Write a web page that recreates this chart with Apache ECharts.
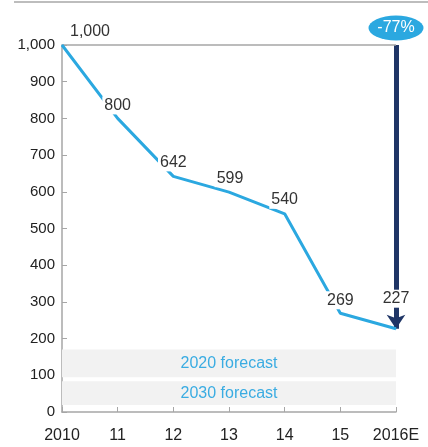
<!DOCTYPE html>
<html>
<head>
<meta charset="utf-8">
<script src="https://cdn.jsdelivr.net/npm/echarts@6/dist/echarts.min.js"></script>
<style>
html,body{margin:0;padding:0;background:#fff;}
#main{width:428px;height:447px;}
</style>
</head>
<body>
<div id="main"></div>
<script>
// 数据
var years = ['2010', '11', '12', '13', '14', '15', '2016E'];
var values = [1000, 800, 642, 599, 540, 269, 227];
var forecasts = [
    {name: '2020 forecast', from: 170, to: 95},
    {name: '2030 forecast', from: 84, to: 19}
];

// 标签偏移
var labelOffsets = [[28, -13], [0, -13], [0, -14], [1, -14], [0, -14], [0, -13], [0, -30]];

function lineData(){
    var arr = [];
    for (var i = 0; i < values.length; i++) {
        arr.push({
            value: values[i],
            label: {offset: labelOffsets[i]}
        });
    }
    return arr;
}

function areaData(){
    var arr = [];
    for (var i = 0; i < forecasts.length; i++) {
        arr.push([
            {name: forecasts[i].name, xAxis: years[0], yAxis: forecasts[i].from},
            {xAxis: years[years.length - 1], yAxis: forecasts[i].to}
        ]);
    }
    return arr;
}

var first = values[0], last = values[values.length - 1];
var pct = Math.round((last - first) / first * 100) + '%';
var lastYear = years[years.length - 1];

var myChart = echarts.init(document.getElementById('main'));
var option = {
    animation: false,
    graphic: [{
        type: 'line',
        shape: {x1: 14, y1: 2, x2: 428, y2: 2},
        style: {stroke: '#bdbdbd', lineWidth: 2}
    }],
    grid: {left: 62, right: 32, top: 45, bottom: 35},
    xAxis: {
        type: 'category',
        boundaryGap: false,
        data: years,
        axisLine: {lineStyle: {color: '#a6a6a6', width: 1.5}},
        axisTick: {inside: true, length: 5, interval: 0, lineStyle: {color: '#a6a6a6'}},
        axisLabel: {color: '#222', fontSize: 16, fontFamily: 'Liberation Sans', margin: 16, interval: 0}
    },
    yAxis: {
        type: 'value',
        min: 0,
        max: 1000,
        interval: 100,
        axisLine: {show: true, lineStyle: {color: '#a6a6a6', width: 1.5}},
        axisTick: {show: true, inside: true, length: 5, lineStyle: {color: '#a6a6a6'}},
        splitLine: {show: false},
        axisLabel: {
            color: '#222', fontSize: 15, fontFamily: 'Liberation Sans', margin: 7,
            formatter: function(v){ return v.toLocaleString('en-US'); }
        }
    },
    series: [
        {
            type: 'line',
            z: 1,
            data: [],
            markArea: {
                silent: true,
                z: 1,
                itemStyle: {color: '#f2f2f2'},
                label: {
                    position: 'inside', color: '#3aace2', fontSize: 16,
                    fontFamily: 'Liberation Sans'
                },
                data: areaData()
            },
            markLine: {
                silent: true,
                z: 1,
                symbol: ['none', 'arrow'],
                symbolSize: [14, 14],
                label: {show: false},
                lineStyle: {color: '#1f3566', width: 5, type: 'solid'},
                data: [[{coord: [lastYear, first]}, {coord: [lastYear, last]}]]
            }
        },
        {
            type: 'line',
            z: 1,
            data: [],
            markLine: {
                silent: true,
                z: 1,
                symbol: ['none', 'none'],
                label: {show: false},
                lineStyle: {color: '#a6a6a6', width: 1.5, type: 'solid'},
                data: [{yAxis: first}]
            },
            markPoint: {
                silent: true,
                z: 2,
                symbol: 'circle',
                symbolSize: [55, 25],
                symbolOffset: [0, -17],
                itemStyle: {color: '#2ba8e0'},
                label: {
                    color: '#fff', fontSize: 16, fontFamily: 'Liberation Sans',
                    formatter: pct
                },
                data: [{coord: [lastYear, first]}]
            }
        },
        {
            type: 'line',
            z: 3,
            data: lineData(),
            symbol: 'circle',
            symbolSize: 1,
            itemStyle: {color: '#2ba8e0'},
            lineStyle: {color: '#2ba8e0', width: 3},
            label: {
                show: true,
                position: 'inside',
                color: '#333',
                fontSize: 16,
                fontFamily: 'Liberation Sans',
                backgroundColor: '#fff',
                padding: [1, 2],
                formatter: function(p){ return p.value.toLocaleString('en-US'); }
            }
        }
    ]
};
myChart.setOption(option);
</script>
</body>
</html>
